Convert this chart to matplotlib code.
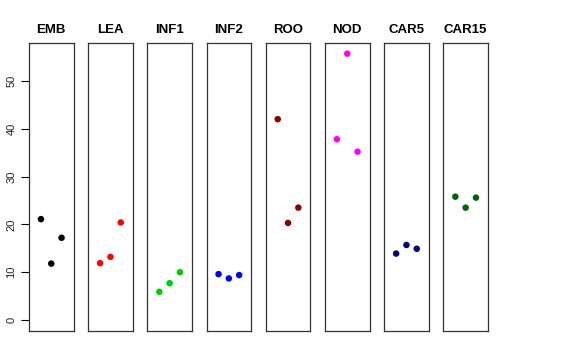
import matplotlib
matplotlib.use('Agg')
import matplotlib.pyplot as plt

plt.rcParams['font.family'] = ['Liberation Sans', 'DejaVu Sans']

# data
categories = ['EMB', 'LEA', 'INF1', 'INF2', 'ROO', 'NOD', 'CAR5', 'CAR15']
values = [
    [21.1, 11.8, 17.2],
    [11.9, 13.2, 20.4],
    [5.9, 7.7, 10.0],
    [9.6, 8.7, 9.4],
    [42.0, 20.3, 23.5],
    [37.8, 55.7, 35.2],
    [13.9, 15.7, 14.9],
    [25.8, 23.5, 25.6],
]
colors = ['black', 'red', '#00CD00', 'blue', '#8B0000', 'magenta', '#000080', '#006400']
yticks = [0, 10, 20, 30, 40, 50]

W, H = 576, 360
fig = plt.figure(figsize=(W / 100, H / 100), dpi=100)

ymax = max(max(v) for v in values)
ylim = (-0.04 * ymax, ymax * 1.04)

left0, step, pw = 29, 59.2, 44.5
top, bottom = 43, 330.7
for i, (cat, vals, col) in enumerate(zip(categories, values, colors)):
    ax = fig.add_axes([(left0 + i * step) / W, 1 - bottom / H, pw / W, (bottom - top) / H])
    ax.scatter([1, 2, 3], vals, s=22, color=col, edgecolors='none', zorder=3)
    ax.set_xlim(-0.16, 4.16)
    ax.set_ylim(*ylim)
    ax.set_xticks([])
    for sp in ax.spines.values():
        sp.set_linewidth(0.9)
        sp.set_color('#333333')
    ax.set_title(cat, fontsize=9.5, fontweight='bold', pad=7)
    if i == 0:
        ax.set_yticks(yticks)
        ax.set_yticklabels([str(t) for t in yticks], rotation=90, va='center', fontsize=8)
        ax.tick_params(axis='y', length=6, width=0.8, pad=3, labelcolor='#222222')
    else:
        ax.set_yticks([])

fig.savefig('out.png', dpi=100)
